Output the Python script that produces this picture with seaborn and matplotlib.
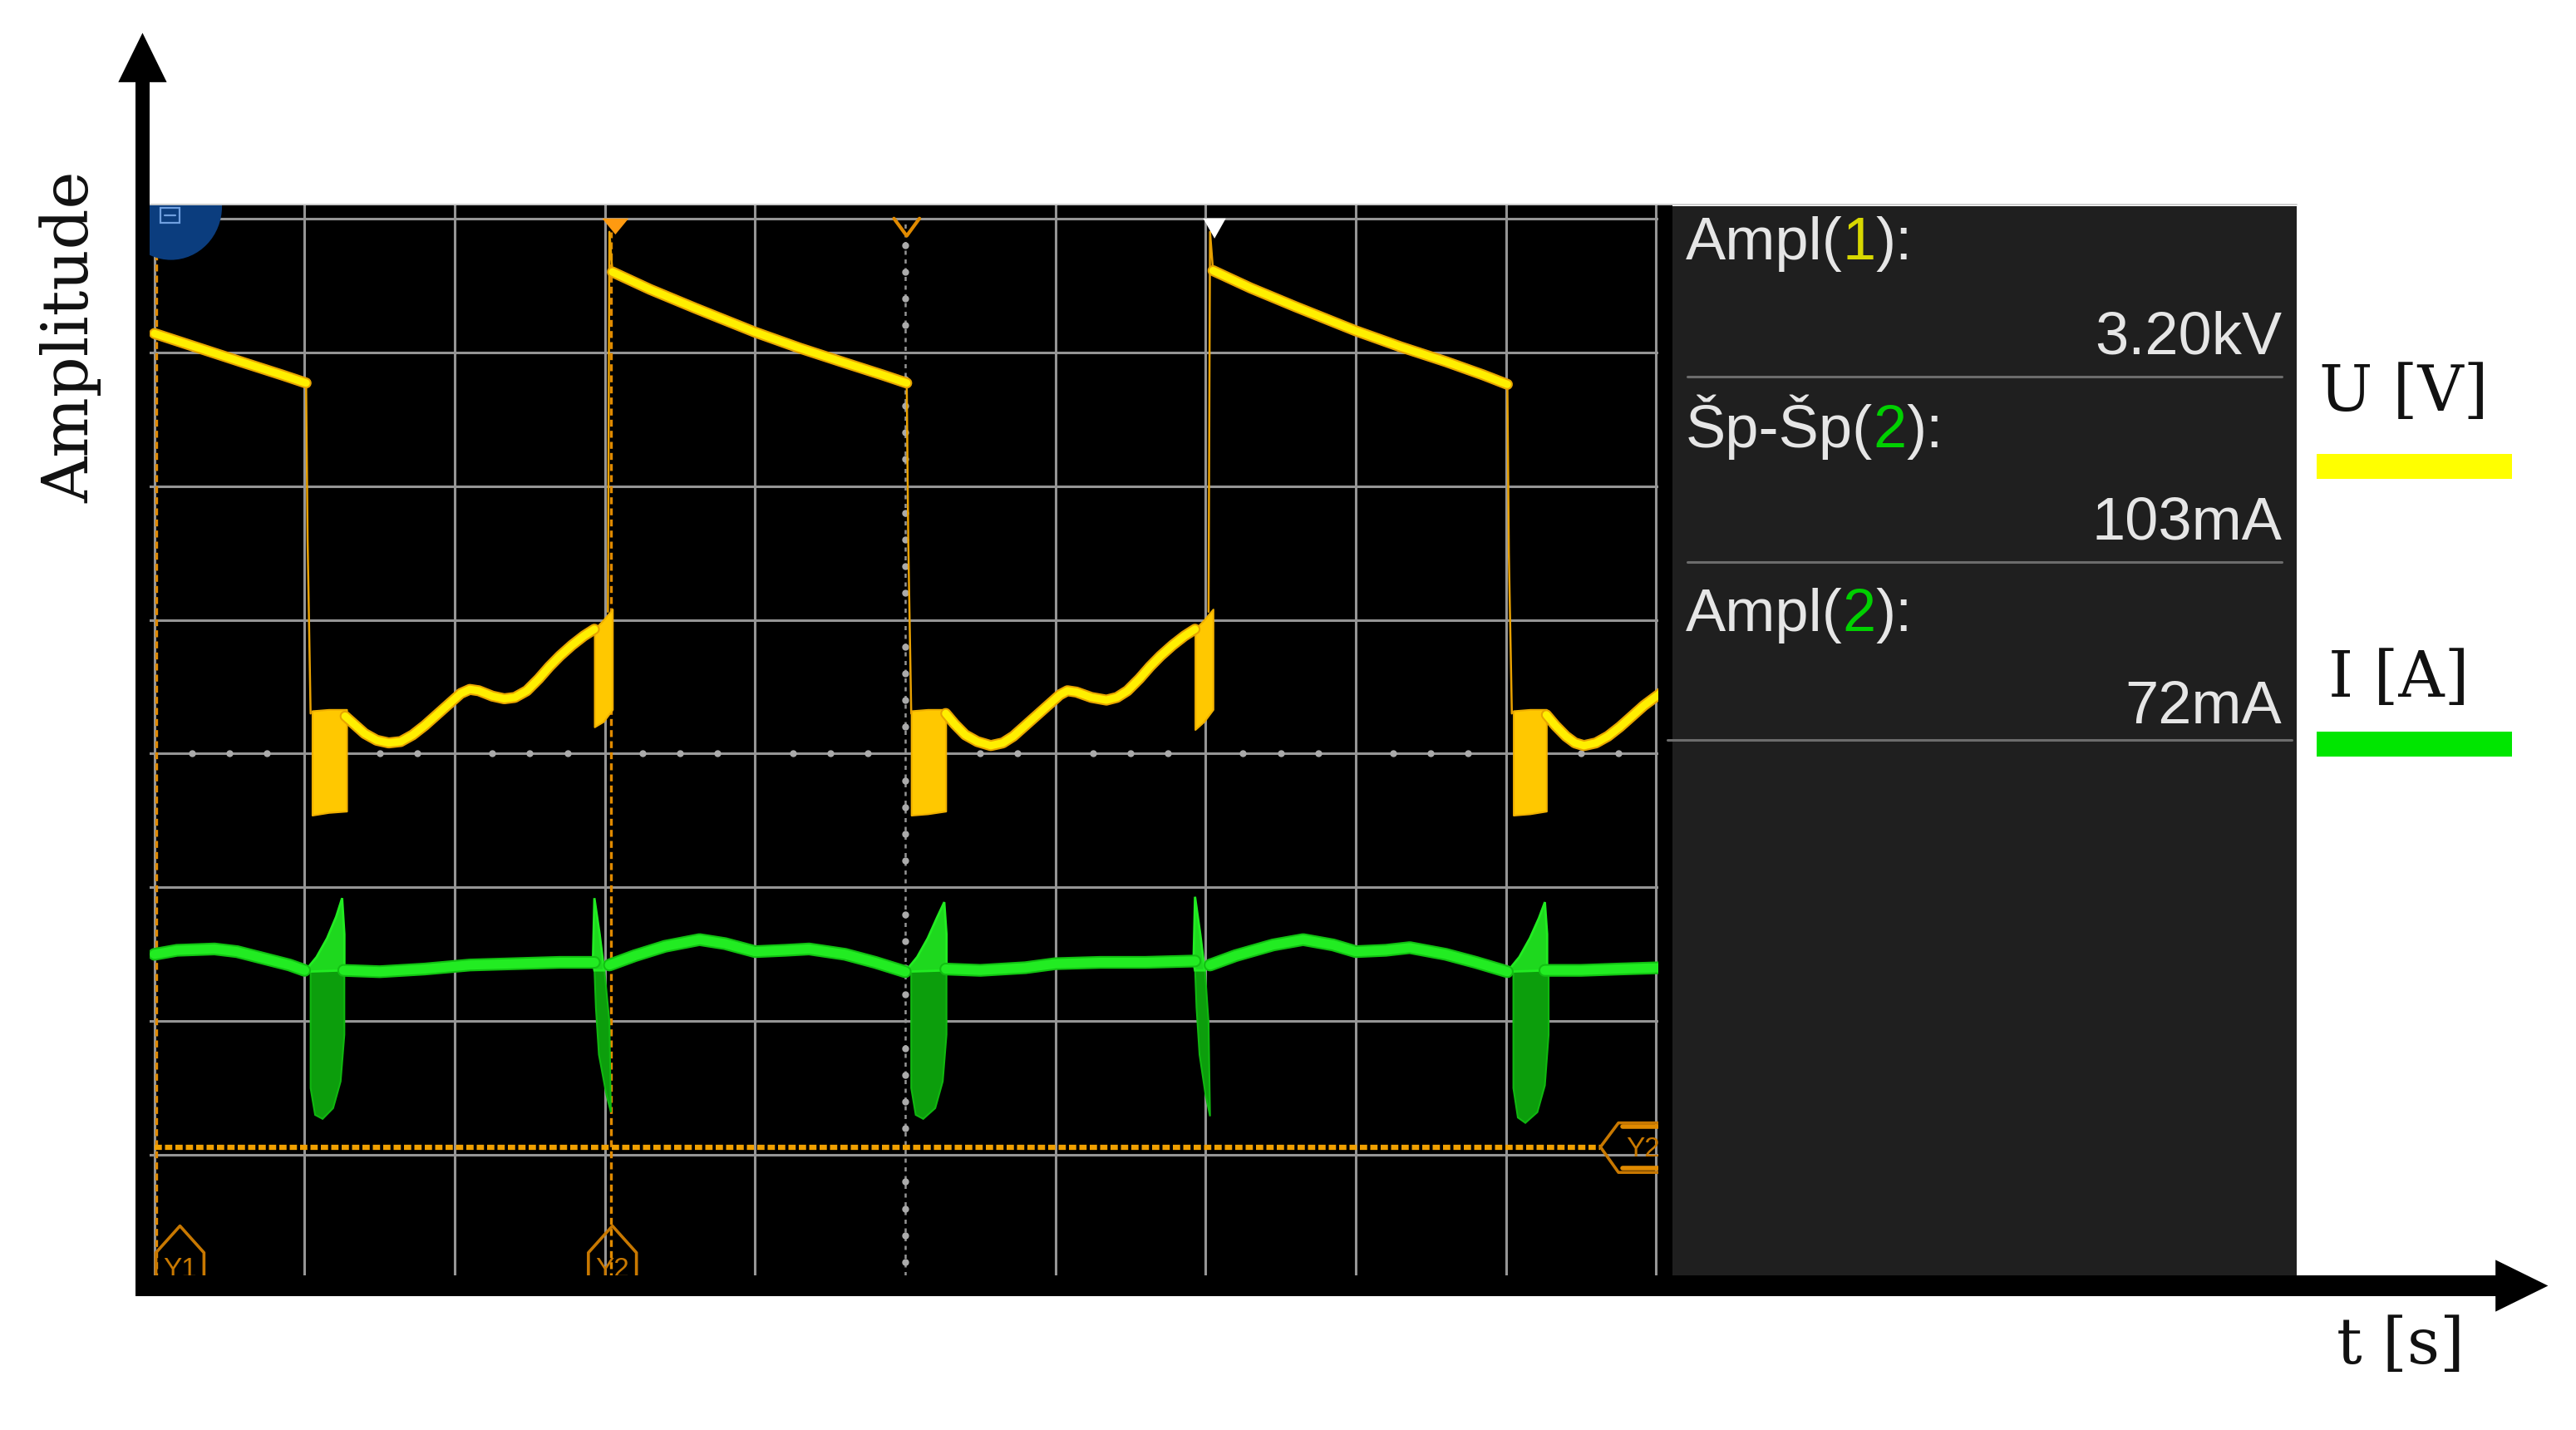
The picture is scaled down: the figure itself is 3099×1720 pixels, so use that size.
import numpy as np
import pandas as pd
import matplotlib
matplotlib.use("Agg")
import matplotlib.pyplot as plt
import seaborn as sns
from matplotlib.patches import Polygon, Rectangle, Ellipse

# ---------------- data (oscilloscope divisions) ----------------
# U trace (channel 1, yellow): smooth segments
U_HI0_T = [0.00, 0.30, 0.60, 0.85, 1.01]
U_HI0_V = [3.14, 3.03, 2.92, 2.83, 2.77]
U_LO1_T = [1.27, 1.33, 1.40, 1.48, 1.56, 1.64, 1.72, 1.80, 1.88, 1.97, 2.04, 2.10, 2.16,
           2.25, 2.33, 2.40, 2.48, 2.56, 2.63, 2.70, 2.78, 2.86, 2.93]
U_LO1_V = [0.28, 0.22, 0.15, 0.10, 0.08, 0.09, 0.14, 0.21, 0.29, 0.38, 0.45, 0.48, 0.47,
           0.43, 0.41, 0.42, 0.47, 0.56, 0.65, 0.73, 0.81, 0.88, 0.93]
U_HI1_T = [3.05, 3.30, 3.60, 4.00, 4.30, 4.60, 4.85, 5.01]
U_HI1_V = [3.60, 3.47, 3.33, 3.15, 3.03, 2.92, 2.83, 2.77]
U_LO2_T = [5.27, 5.33, 5.40, 5.48, 5.57, 5.65, 5.72, 5.80, 5.88, 5.97, 6.03, 6.08, 6.14,
           6.24, 6.34, 6.41, 6.48, 6.56, 6.63, 6.70, 6.78, 6.86, 6.93]
U_LO2_V = [0.30, 0.22, 0.14, 0.09, 0.06, 0.08, 0.13, 0.21, 0.29, 0.38, 0.44, 0.47, 0.46,
           0.42, 0.40, 0.42, 0.47, 0.56, 0.65, 0.73, 0.81, 0.88, 0.93]
U_HI2_T = [7.05, 7.30, 7.60, 8.00, 8.30, 8.60, 8.85, 9.01]
U_HI2_V = [3.61, 3.48, 3.34, 3.16, 3.04, 2.93, 2.83, 2.76]
U_LO3_T = [9.27, 9.33, 9.40, 9.46, 9.52, 9.60, 9.68, 9.76, 9.84, 9.92, 10.04]
U_LO3_V = [0.29, 0.21, 0.13, 0.08, 0.06, 0.08, 0.13, 0.20, 0.28, 0.36, 0.46]
# fast edges of U
U_FALL1 = ([1.01, 1.02, 1.04], [2.77, 1.60, 0.30])
U_RISE1 = ([3.02, 3.03, 3.05], [1.06, 3.90, 3.60])
U_FALL2 = ([5.01, 5.02, 5.04], [2.77, 1.60, 0.30])
U_RISE2 = ([7.02, 7.03, 7.05], [1.06, 3.90, 3.61])
U_FALL3 = ([9.01, 9.02, 9.04], [2.76, 1.50, 0.30])
# ringing bursts of U (t, low, high)
U_BURST_F1 = ([1.05, 1.16, 1.28], [-0.46, -0.44, -0.43], [0.32, 0.33, 0.33])
U_BURST_F2 = ([5.04, 5.15, 5.27], [-0.46, -0.45, -0.43], [0.32, 0.33, 0.33])
U_BURST_F3 = ([9.05, 9.16, 9.27], [-0.46, -0.45, -0.43], [0.32, 0.33, 0.33])
U_BURST_R1 = ([2.93, 2.99, 3.05], [0.20, 0.24, 0.33], [0.93, 1.00, 1.08])
U_BURST_R2 = ([6.93, 6.99, 7.05], [0.18, 0.24, 0.33], [0.93, 1.00, 1.08])

# I trace (channel 2, green): smooth segments
I_S0_T = [0.00, 0.15, 0.40, 0.55, 0.69, 0.90, 1.00]
I_S0_V = [-1.50, -1.47, -1.46, -1.48, -1.52, -1.58, -1.62]
I_S1_T = [1.26, 1.50, 1.80, 2.10, 2.40, 2.70, 2.93]
I_S1_V = [-1.62, -1.63, -1.61, -1.58, -1.57, -1.56, -1.56]
I_S2_T = [3.03, 3.20, 3.40, 3.63, 3.80, 4.00, 4.20, 4.36, 4.60, 4.80, 5.00]
I_S2_V = [-1.58, -1.51, -1.44, -1.39, -1.42, -1.48, -1.47, -1.46, -1.50, -1.56, -1.63]
I_S3_T = [5.27, 5.50, 5.80, 6.00, 6.30, 6.60, 6.93]
I_S3_V = [-1.61, -1.62, -1.60, -1.57, -1.56, -1.56, -1.55]
I_S4_T = [7.03, 7.20, 7.45, 7.65, 7.85, 8.00, 8.20, 8.36, 8.60, 8.80, 9.01]
I_S4_V = [-1.58, -1.51, -1.43, -1.39, -1.43, -1.48, -1.47, -1.45, -1.50, -1.56, -1.63]
I_S5_T = [9.26, 9.50, 9.75, 10.04]
I_S5_V = [-1.62, -1.62, -1.61, -1.60]
# current spikes: bright horn (upper) and dark blob (lower)
I_HORN1 = ([1.00, 1.08, 1.15, 1.21, 1.25, 1.265, 1.265], [-1.63, -1.52, -1.38, -1.22, -1.08, -1.35, -1.62])
I_HORN3 = ([5.00, 5.08, 5.15, 5.21, 5.26, 5.275, 5.275], [-1.63, -1.52, -1.38, -1.23, -1.11, -1.35, -1.62])
I_HORN5 = ([9.01, 9.09, 9.16, 9.22, 9.26, 9.275, 9.275], [-1.63, -1.52, -1.38, -1.23, -1.11, -1.35, -1.62])
I_HORN2 = ([2.92, 2.93, 2.965, 2.995, 2.93], [-1.56, -1.08, -1.35, -1.62, -1.62])
I_HORN4 = ([6.92, 6.93, 6.965, 6.995, 6.93], [-1.56, -1.07, -1.35, -1.62, -1.62])
I_BLOB1 = ([1.04, 1.265, 1.265, 1.24, 1.19, 1.12, 1.07, 1.04], [-1.60, -1.60, -2.10, -2.45, -2.65, -2.73, -2.70, -2.50])
I_BLOB3 = ([5.04, 5.275, 5.275, 5.25, 5.20, 5.12, 5.07, 5.04], [-1.60, -1.60, -2.10, -2.45, -2.65, -2.73, -2.70, -2.50])
I_BLOB5 = ([9.05, 9.285, 9.285, 9.26, 9.21, 9.13, 9.08, 9.05], [-1.60, -1.60, -2.10, -2.48, -2.68, -2.76, -2.72, -2.50])
I_BLOB2 = ([2.93, 2.995, 3.03, 3.04, 3.01, 2.96, 2.94], [-1.60, -1.60, -2.00, -2.68, -2.55, -2.25, -1.90])
I_BLOB4 = ([6.93, 6.995, 7.02, 7.03, 7.00, 6.96, 6.94], [-1.60, -1.60, -2.00, -2.71, -2.55, -2.25, -1.90])

# cursors / markers
CURSOR_X = [0.01, 3.04]
CURSOR_Y = -2.94
TRIG_X = [3.07, 5.01, 7.06]

# measurement panel texts
MEAS_LABELS = [[("Ampl(", None), ("1", "ch1"), ("):", None)],
               [("Šp-Šp(", None), ("2", "ch2"), ("):", None)],
               [("Ampl(", None), ("2", "ch2"), ("):", None)]]
MEAS_VALUES = ["3.20kV", "103mA", "72mA"]
SERIES_NAMES = ["U [V]", "I [A]"]
X_LABEL = "t [s]"
Y_LABEL = "Amplitude"

# ---------------- style ----------------
sns.set_theme(style="white")
plt.rcParams['font.family'] = ['DejaVu Sans']

YEL = "#ffef00"
YEL_EDGE = "#e8a400"
BURST = "#ffc800"
GRN = "#22ec22"
GRN_DARK = "#0c9e0c"
ORANGE = "#e08a00"
GRIDC = "#959595"
TXT = "#e6e6e6"
CH_COL = {"ch1": "#d8d800", "ch2": "#00d000", None: TXT}

W, H = 1568.0, 870.0          # layout grid of the reference (shrunk px)
def fx(x): return x / W
def fy(y): return 1 - y / H

fig = plt.figure(figsize=(30.99, 17.20), dpi=100)
fig.patch.set_facecolor("white")

# scope screen
SX0, SX1, SY0, SY1 = 89, 1018, 124, 788
X0, XD = 94.0, 91.4
Y0, YD = 458.5, 81.4
ax = fig.add_axes([fx(SX0), fy(SY1), fx(SX1) - fx(SX0), fy(SY0) - fy(SY1)])
ax.set_xlim((SX0 - X0) / XD, (SX1 - X0) / XD)
ax.set_ylim((Y0 - SY1) / YD, (Y0 - SY0) / YD)
ax.set_facecolor("black")
for s in ax.spines.values():
    s.set_visible(False)
ax.set_xticks([]); ax.set_yticks([])

# graticule
for xg in range(0, 11):
    if xg == 5:
        continue
    ax.axvline(xg, color=GRIDC, lw=2.2, zorder=1)
for yg in range(-4, 5):
    ax.axhline(yg, color=GRIDC, lw=2.2, zorder=1)
ax.plot([5, 5], [-4.1, 4.0], color=GRIDC, lw=1.8, ls=(0, (2, 2.2)), zorder=1)
hx = [v / 4 for v in range(1, 40) if v % 4]
ax.plot(hx, [0] * len(hx), ls="none", marker="o", ms=5, color="#ababab", zorder=1)
vy = [v / 5 for v in range(-20, 20) if v % 5]
ax.plot([5] * len(vy), vy, ls="none", marker="o", ms=5, color="#ababab", zorder=1)

# cursors
for cx in CURSOR_X:
    ax.plot([cx, cx], [-4.1, 3.75 if cx < 1 else 3.9], color=ORANGE, lw=2.4,
            ls=(0, (2.5, 1.5)), zorder=2)
ax.plot([0.0, 9.63], [CURSOR_Y, CURSOR_Y], color="#f0a000", lw=4.5,
        ls=(0, (1.4, 0.6)), zorder=2)

# U trace
u_segs = [(U_HI0_T, U_HI0_V), (U_LO1_T, U_LO1_V), (U_HI1_T, U_HI1_V),
          (U_LO2_T, U_LO2_V), (U_HI2_T, U_HI2_V), (U_LO3_T, U_LO3_V)]
df_u = pd.concat([pd.DataFrame({"t": t, "v": v, "seg": i}) for i, (t, v) in enumerate(u_segs)])
for burst in [U_BURST_F1, U_BURST_F2, U_BURST_F3, U_BURST_R1, U_BURST_R2]:
    ax.fill_between(burst[0], burst[1], burst[2], color=BURST, lw=1.5,
                    edgecolor="#f0b000", zorder=3)
for edge in [U_FALL1, U_RISE1, U_FALL2, U_RISE2, U_FALL3]:
    ax.plot(edge[0], edge[1], color="#e8a000", lw=1.8, zorder=3)
sns.lineplot(data=df_u, x="t", y="v", units="seg", estimator=None, sort=False,
             color=YEL_EDGE, lw=9.5, ax=ax, legend=False, zorder=3,
             solid_joinstyle="round", solid_capstyle="round")
sns.lineplot(data=df_u, x="t", y="v", units="seg", estimator=None, sort=False,
             color=YEL, lw=6.5, ax=ax, legend=False, zorder=4,
             solid_joinstyle="round", solid_capstyle="round")

# I trace
for blob in [I_BLOB1, I_BLOB2, I_BLOB3, I_BLOB4, I_BLOB5]:
    ax.add_patch(Polygon(list(zip(*blob)), closed=True, facecolor=GRN_DARK,
                         edgecolor="#10b810", lw=1.5, zorder=3))
for horn in [I_HORN1, I_HORN2, I_HORN3, I_HORN4, I_HORN5]:
    ax.add_patch(Polygon(list(zip(*horn)), closed=True, facecolor="#1ed81e",
                         edgecolor=GRN, lw=2.0, zorder=4))
i_segs = [(I_S0_T, I_S0_V), (I_S1_T, I_S1_V), (I_S2_T, I_S2_V),
          (I_S3_T, I_S3_V), (I_S4_T, I_S4_V), (I_S5_T, I_S5_V)]
df_i = pd.concat([pd.DataFrame({"t": t, "v": v, "seg": i}) for i, (t, v) in enumerate(i_segs)])
sns.lineplot(data=df_i, x="t", y="v", units="seg", estimator=None, sort=False,
             color="#12c012", lw=11.0, ax=ax, legend=False, zorder=4,
             solid_joinstyle="round", solid_capstyle="round")
sns.lineplot(data=df_i, x="t", y="v", units="seg", estimator=None, sort=False,
             color=GRN, lw=8.0, ax=ax, legend=False, zorder=4,
             solid_joinstyle="round", solid_capstyle="round")
ax.set_xlabel(""); ax.set_ylabel("")

# top trigger / cursor markers
tx = TRIG_X
ax.add_patch(Polygon([(tx[0] - 0.088, 4.0), (tx[0] + 0.088, 4.0), (tx[0], 3.88)],
                     closed=True, facecolor="#ff9a10", edgecolor="none", zorder=6))
ax.plot([tx[1] - 0.085, tx[1], tx[1] + 0.085], [4.0, 3.87, 4.0], color=ORANGE, lw=3, zorder=6)
ax.add_patch(Polygon([(tx[2] - 0.075, 4.0), (tx[2] + 0.075, 4.0), (tx[2], 3.85)],
                     closed=True, facecolor="white", edgecolor="none", zorder=6))

# blue menu badge
ax.add_patch(Ellipse((0.11, 4.09), 0.68, 0.80, facecolor="#0b3d7e", edgecolor="none", zorder=6))
ax.add_patch(Rectangle((0.04, 3.97), 0.13, 0.11, facecolor="none", edgecolor="#6f9fdf", lw=1.6, zorder=7))
ax.plot([0.07, 0.14], [4.025, 4.025], color="#6f9fdf", lw=1.6, zorder=7)

# Y1 / Y2 markers at bottom
for cx, lab in [(0.17, "Y1"), (3.05, "Y2")]:
    ax.plot([cx - 0.16, cx - 0.16, cx, cx + 0.16, cx + 0.16],
            [-3.95, -3.73, -3.53, -3.73, -3.95], color="#c87800", lw=2.6, zorder=6)
    ax.text(cx, -3.86, lab, color="#c87800", fontsize=24, ha="center", va="center", zorder=6,
            family=["Liberation Sans"])
ax.plot([10.2, 9.75, 9.63, 9.75, 10.2], [-2.76, -2.76, CURSOR_Y, -3.13, -3.13],
        color="#c87800", lw=2.6, zorder=6)
ax.plot([9.78, 10.2], [-2.79, -2.79], color="#e08a00", lw=4, zorder=6)
ax.plot([9.78, 10.2], [-3.10, -3.10], color="#e08a00", lw=4, zorder=6)
ax.text(9.80, -2.96, "Y2", color="#c87800", fontsize=24, ha="left", va="center", zorder=6,
        family=["Liberation Sans"])

# ---------------- overlay: panel, axes arrows, labels ----------------
ov = fig.add_axes([0, 0, 1, 1], zorder=5)
ov.set_xlim(0, W); ov.set_ylim(H, 0)
ov.axis("off")
ov.patch.set_alpha(0)

# strip covering screen beyond x=10 grid edge and the Y2 text overflow
ov.add_patch(Rectangle((1009.5, 124), 8.5, 664, facecolor="black", edgecolor="none", zorder=1))
# measurement panel
ov.add_patch(Rectangle((1018, 125.5), 380, 660, facecolor="#1f1f1f", edgecolor="none", zorder=1))
ov.plot([89, 1398], [124.5, 124.5], color="#cfcfcf", lw=1.4, zorder=2)

PF = dict(fontsize=52, family=["Liberation Sans", "DejaVu Sans"])
label_base = [158, 272, 384]
value_base = [215, 328, 440]
for parts, yb in zip(MEAS_LABELS, label_base):
    prev = ov.text(1026, yb, parts[0][0], color=CH_COL[parts[0][1]], va="baseline",
                   ha="left", zorder=3, **PF)
    for s, c in parts[1:]:
        prev = ov.annotate(s, xy=(1, 0), xycoords=prev, va="bottom", ha="left",
                           color=CH_COL[c], zorder=3, annotation_clip=False, **PF)
for val, yb in zip(MEAS_VALUES, value_base):
    ov.text(1389, yb, val, color=TXT, va="baseline", ha="right", zorder=3, **PF)
for ys, xa, xb in [(229, 1027, 1389), (342, 1027, 1389), (450, 1015, 1395)]:
    ov.plot([xa, xb], [ys, ys], color="#6c6c6c", lw=2.2, zorder=2)

# axis arrows
ov.add_patch(Rectangle((82.5, 776), 1438, 12.5, facecolor="black", edgecolor="none", zorder=4))
ov.add_patch(Polygon([(1519, 766.5), (1551, 782.25), (1519, 798)], closed=True,
                     facecolor="black", edgecolor="none", zorder=4))
ov.add_patch(Rectangle((82.5, 48), 8.5, 740, facecolor="black", edgecolor="none", zorder=4))
ov.add_patch(Polygon([(72, 50), (86.75, 20), (101.5, 50)], closed=True,
                     facecolor="black", edgecolor="none", zorder=4))

SF = dict(fontsize=55, family=["DejaVu Serif"], color="#111111")
ov.text(43, 205, Y_LABEL, rotation=90, ha="center", va="center", **SF)
ov.text(1461, 819, X_LABEL, ha="center", va="center", **SF)
ov.text(1463, 239, SERIES_NAMES[0], ha="center", va="center", **SF)
ov.text(1460, 413, SERIES_NAMES[1], ha="center", va="center", **SF)
ov.add_patch(Rectangle((1410, 276), 119, 15.5, facecolor="#ffff00", edgecolor="none"))
ov.add_patch(Rectangle((1410, 445), 119, 15.5, facecolor="#00e600", edgecolor="none"))

fig.savefig("out.png", dpi=100, facecolor="white")
